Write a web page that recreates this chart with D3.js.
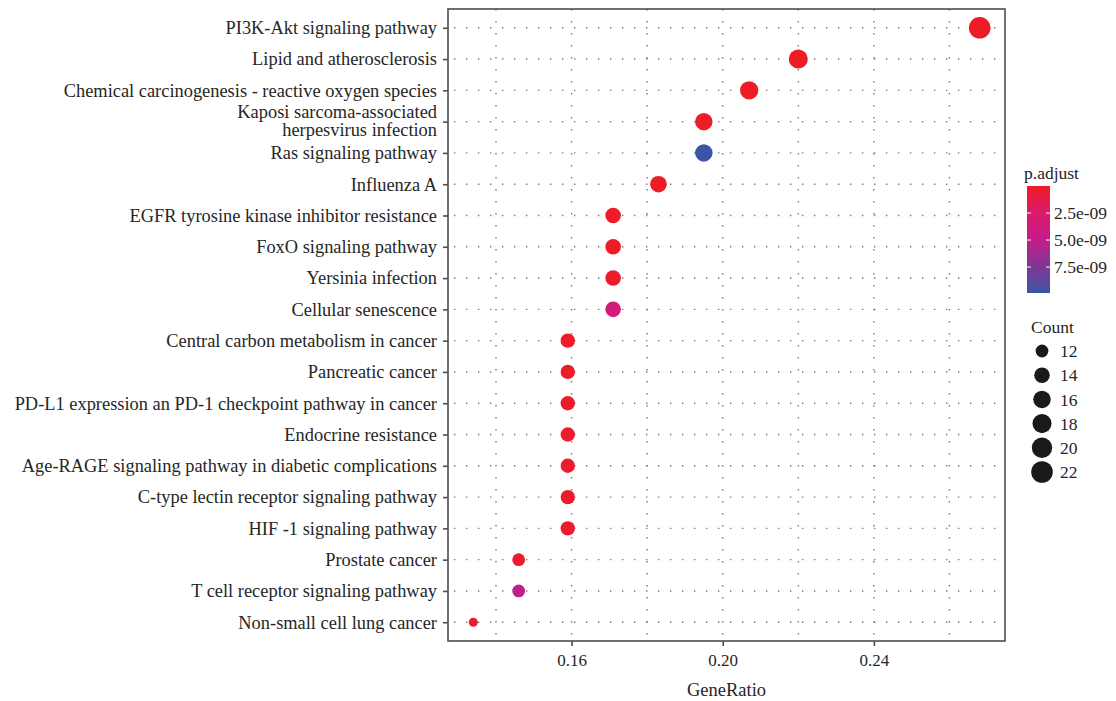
<!DOCTYPE html>
<html>
<head>
<meta charset="utf-8">
<script src="https://cdn.jsdelivr.net/npm/d3@7"></script>
<style>
  body { margin: 0; background: #fff; }
  text { font-family: "Liberation Serif", "DejaVu Serif", serif; fill: #262626; }
</style>
</head>
<body>
<script>
  // pathways, top to bottom
  const pathways = [
    "PI3K-Akt signaling pathway",
    "Lipid and atherosclerosis",
    "Chemical carcinogenesis - reactive oxygen species",
    "Kaposi sarcoma-associated<br>herpesvirus infection",
    "Ras signaling pathway",
    "Influenza A",
    "EGFR tyrosine kinase inhibitor resistance",
    "FoxO signaling pathway",
    "Yersinia infection",
    "Cellular senescence",
    "Central carbon metabolism in cancer",
    "Pancreatic cancer",
    "PD-L1 expression an PD-1 checkpoint pathway in cancer",
    "Endocrine resistance",
    "Age-RAGE signaling pathway in diabetic complications",
    "C-type lectin receptor signaling pathway",
    "HIF -1 signaling pathway",
    "Prostate cancer",
    "T cell receptor signaling pathway",
    "Non-small cell lung cancer"
  ];
  const geneRatio = [0.268, 0.220, 0.207, 0.195, 0.195, 0.183, 0.171, 0.171, 0.171, 0.171,
                     0.159, 0.159, 0.159, 0.159, 0.159, 0.159, 0.159, 0.146, 0.146, 0.134];
  const counts = [22, 18, 17, 16, 16, 15, 14, 14, 14, 14, 13, 13, 13, 13, 13, 13, 13, 12, 12, 11];
  const pAdjust = [1e-13, 2e-12, 5e-12, 8e-11, 9.9e-9, 1e-11, 4e-11, 6e-11, 9e-11, 3.6e-9,
                   1e-10, 1.2e-10, 1.5e-10, 1.8e-10, 2e-10, 2.2e-10, 2.5e-10, 3e-10, 5.1e-9, 3.5e-10];

  const xTicks = [0.16, 0.20, 0.24];
  const xMinor = [0.14, 0.18, 0.22, 0.26];
  const colorTicks = [2.5e-9, 5.0e-9, 7.5e-9];
  const sizeBreaks = [12, 14, 16, 18, 20, 22];
  // gradient colours from low to high p.adjust
  const gradColors = ["#ee1c25", "#dc1a6a", "#c41b8a", "#7d3394", "#3a55a5"];

  const W = 1116, H = 701;
  const panel = { left: 448, right: 1005, top: 9, bottom: 641 };

  const svg = d3.select("body").append("svg")
    .attr("width", W).attr("height", H);

  // scales
  const gMin = d3.min(geneRatio), gMax = d3.max(geneRatio), gPad = (gMax - gMin) * 0.05;
  const x = d3.scaleLinear()
    .domain([gMin - gPad, gMax + gPad])
    .range([panel.left, panel.right]);

  const y = d3.scalePoint()
    .domain(pathways)
    .range([panel.top, panel.bottom])
    .padding(0.6);

  const pMax = d3.max(pAdjust);
  const color = d3.scaleLinear()
    .domain(gradColors.map((c, i) => pMax * i / (gradColors.length - 1)))
    .range(gradColors)
    .interpolate(d3.interpolateLab);

  const cMin = d3.min(counts), cMax = d3.max(counts);
  const sizeT = d3.scaleLinear().domain([cMin, cMax]).range([0, 1]);
  const rad = c => 4.5 + 6.3 * Math.sqrt(sizeT(c));

  // grid (dotted)
  const grid = svg.append("g")
    .attr("stroke", "#7a7a7a")
    .attr("stroke-width", 1.4)
    .attr("stroke-dasharray", "1.4 10.6");
  grid.selectAll(".vg")
    .data(xMinor.concat(xTicks))
    .enter().append("line")
      .attr("x1", d => x(d)).attr("x2", d => x(d))
      .attr("y1", panel.top).attr("y2", panel.bottom);
  grid.selectAll(".hg")
    .data(pathways)
    .enter().append("line")
      .attr("x1", panel.left + 6).attr("x2", panel.right)
      .attr("y1", d => y(d)).attr("y2", d => y(d));

  // points
  const data = pathways.map((p, i) => ({ name: p, ratio: geneRatio[i], count: counts[i], p: pAdjust[i] }));
  svg.append("g").selectAll("circle")
    .data(data)
    .enter().append("circle")
      .attr("cx", d => x(d.ratio))
      .attr("cy", d => y(d.name))
      .attr("r", d => rad(d.count))
      .attr("fill", d => color(d.p));

  // panel border
  svg.append("rect")
    .attr("x", panel.left).attr("y", panel.top)
    .attr("width", panel.right - panel.left)
    .attr("height", panel.bottom - panel.top)
    .attr("fill", "none")
    .attr("stroke", "#4d4d4d")
    .attr("stroke-width", 1.6);

  // x axis
  const xAxis = d3.axisBottom(x).tickValues(xTicks).tickFormat(d3.format(".2f")).tickSize(5).tickPadding(8);
  const gx = svg.append("g")
    .attr("transform", `translate(0, ${panel.bottom})`)
    .call(xAxis);
  gx.select(".domain").remove();
  gx.selectAll("line").attr("stroke", "#4d4d4d").attr("stroke-width", 1.6);
  gx.selectAll("text")
    .style("font-size", "17px")
    .style("font-family", "Liberation Serif")
    .attr("fill", "#262626");

  // y axis
  const yAxis = d3.axisLeft(y).tickSize(5).tickPadding(6);
  const gy = svg.append("g")
    .attr("transform", `translate(${panel.left}, 0)`)
    .call(yAxis);
  gy.select(".domain").remove();
  gy.selectAll("line").attr("stroke", "#4d4d4d").attr("stroke-width", 1.6);
  gy.selectAll("text")
    .style("font-size", "18.4px")
    .style("font-family", "Liberation Serif")
    .attr("fill", "#262626")
    .each(insertLinebreaks);

  function insertLinebreaks(d) {
    const el = d3.select(this);
    const words = d.split("<br>");
    if (words.length < 2) return;
    el.text("");
    for (let i = 0; i < words.length; i++) {
      el.append("tspan")
        .attr("x", el.attr("x"))
        .attr("dy", i === 0 ? "-0.22em" : "1.0em")
        .text(words[i]);
    }
  }

  // axis title
  svg.append("text")
    .attr("x", (panel.left + panel.right) / 2)
    .attr("y", 696)
    .attr("text-anchor", "middle")
    .style("font-size", "18.5px")
    .text("GeneRatio");

  // colour legend
  const cb = { x: 1027, w: 23, top: 186, bottom: 293 };
  const cy = d3.scaleLinear().domain([0, pMax]).range([cb.top, cb.bottom]);
  const defs = svg.append("defs");
  const grad = defs.append("linearGradient")
    .attr("id", "pgrad").attr("x1", 0).attr("y1", 0).attr("x2", 0).attr("y2", 1);
  d3.range(0, 1.0001, 0.05).forEach(t => {
    grad.append("stop").attr("offset", t).attr("stop-color", color(t * pMax));
  });
  svg.append("text")
    .attr("x", 1024).attr("y", 179)
    .style("font-size", "17.5px")
    .text("p.adjust");
  svg.append("rect")
    .attr("x", cb.x).attr("y", cb.top)
    .attr("width", cb.w).attr("height", cb.bottom - cb.top)
    .attr("fill", "url(#pgrad)");
  const ct = svg.append("g");
  ct.selectAll(".tl")
    .data(colorTicks)
    .enter().append("line")
      .attr("x1", cb.x).attr("x2", cb.x + 4)
      .attr("y1", d => cy(d)).attr("y2", d => cy(d))
      .attr("stroke", "#fff").attr("stroke-width", 1);
  ct.selectAll(".tr")
    .data(colorTicks)
    .enter().append("line")
      .attr("x1", cb.x + cb.w - 4).attr("x2", cb.x + cb.w)
      .attr("y1", d => cy(d)).attr("y2", d => cy(d))
      .attr("stroke", "#fff").attr("stroke-width", 1);
  ct.selectAll("text")
    .data(colorTicks)
    .enter().append("text")
      .attr("x", 1054)
      .attr("y", d => cy(d))
      .attr("dy", "0.35em")
      .style("font-size", "17.5px")
      .text(d => d.toExponential(1).replace(/e-(\d)$/, "e-0$1"));

  // size legend
  svg.append("text")
    .attr("x", 1031).attr("y", 333)
    .style("font-size", "17.5px")
    .text("Count");
  const sy = d3.scalePoint().domain(sizeBreaks).range([351, 472]);
  const sl = svg.append("g");
  sl.selectAll("circle")
    .data(sizeBreaks)
    .enter().append("circle")
      .attr("cx", 1042)
      .attr("cy", d => sy(d))
      .attr("r", d => rad(d))
      .attr("fill", "#1a1a1a");
  sl.selectAll("text")
    .data(sizeBreaks)
    .enter().append("text")
      .attr("x", 1060)
      .attr("y", d => sy(d))
      .attr("dy", "0.35em")
      .style("font-size", "17.5px")
      .text(d => d);
</script>
</body>
</html>
